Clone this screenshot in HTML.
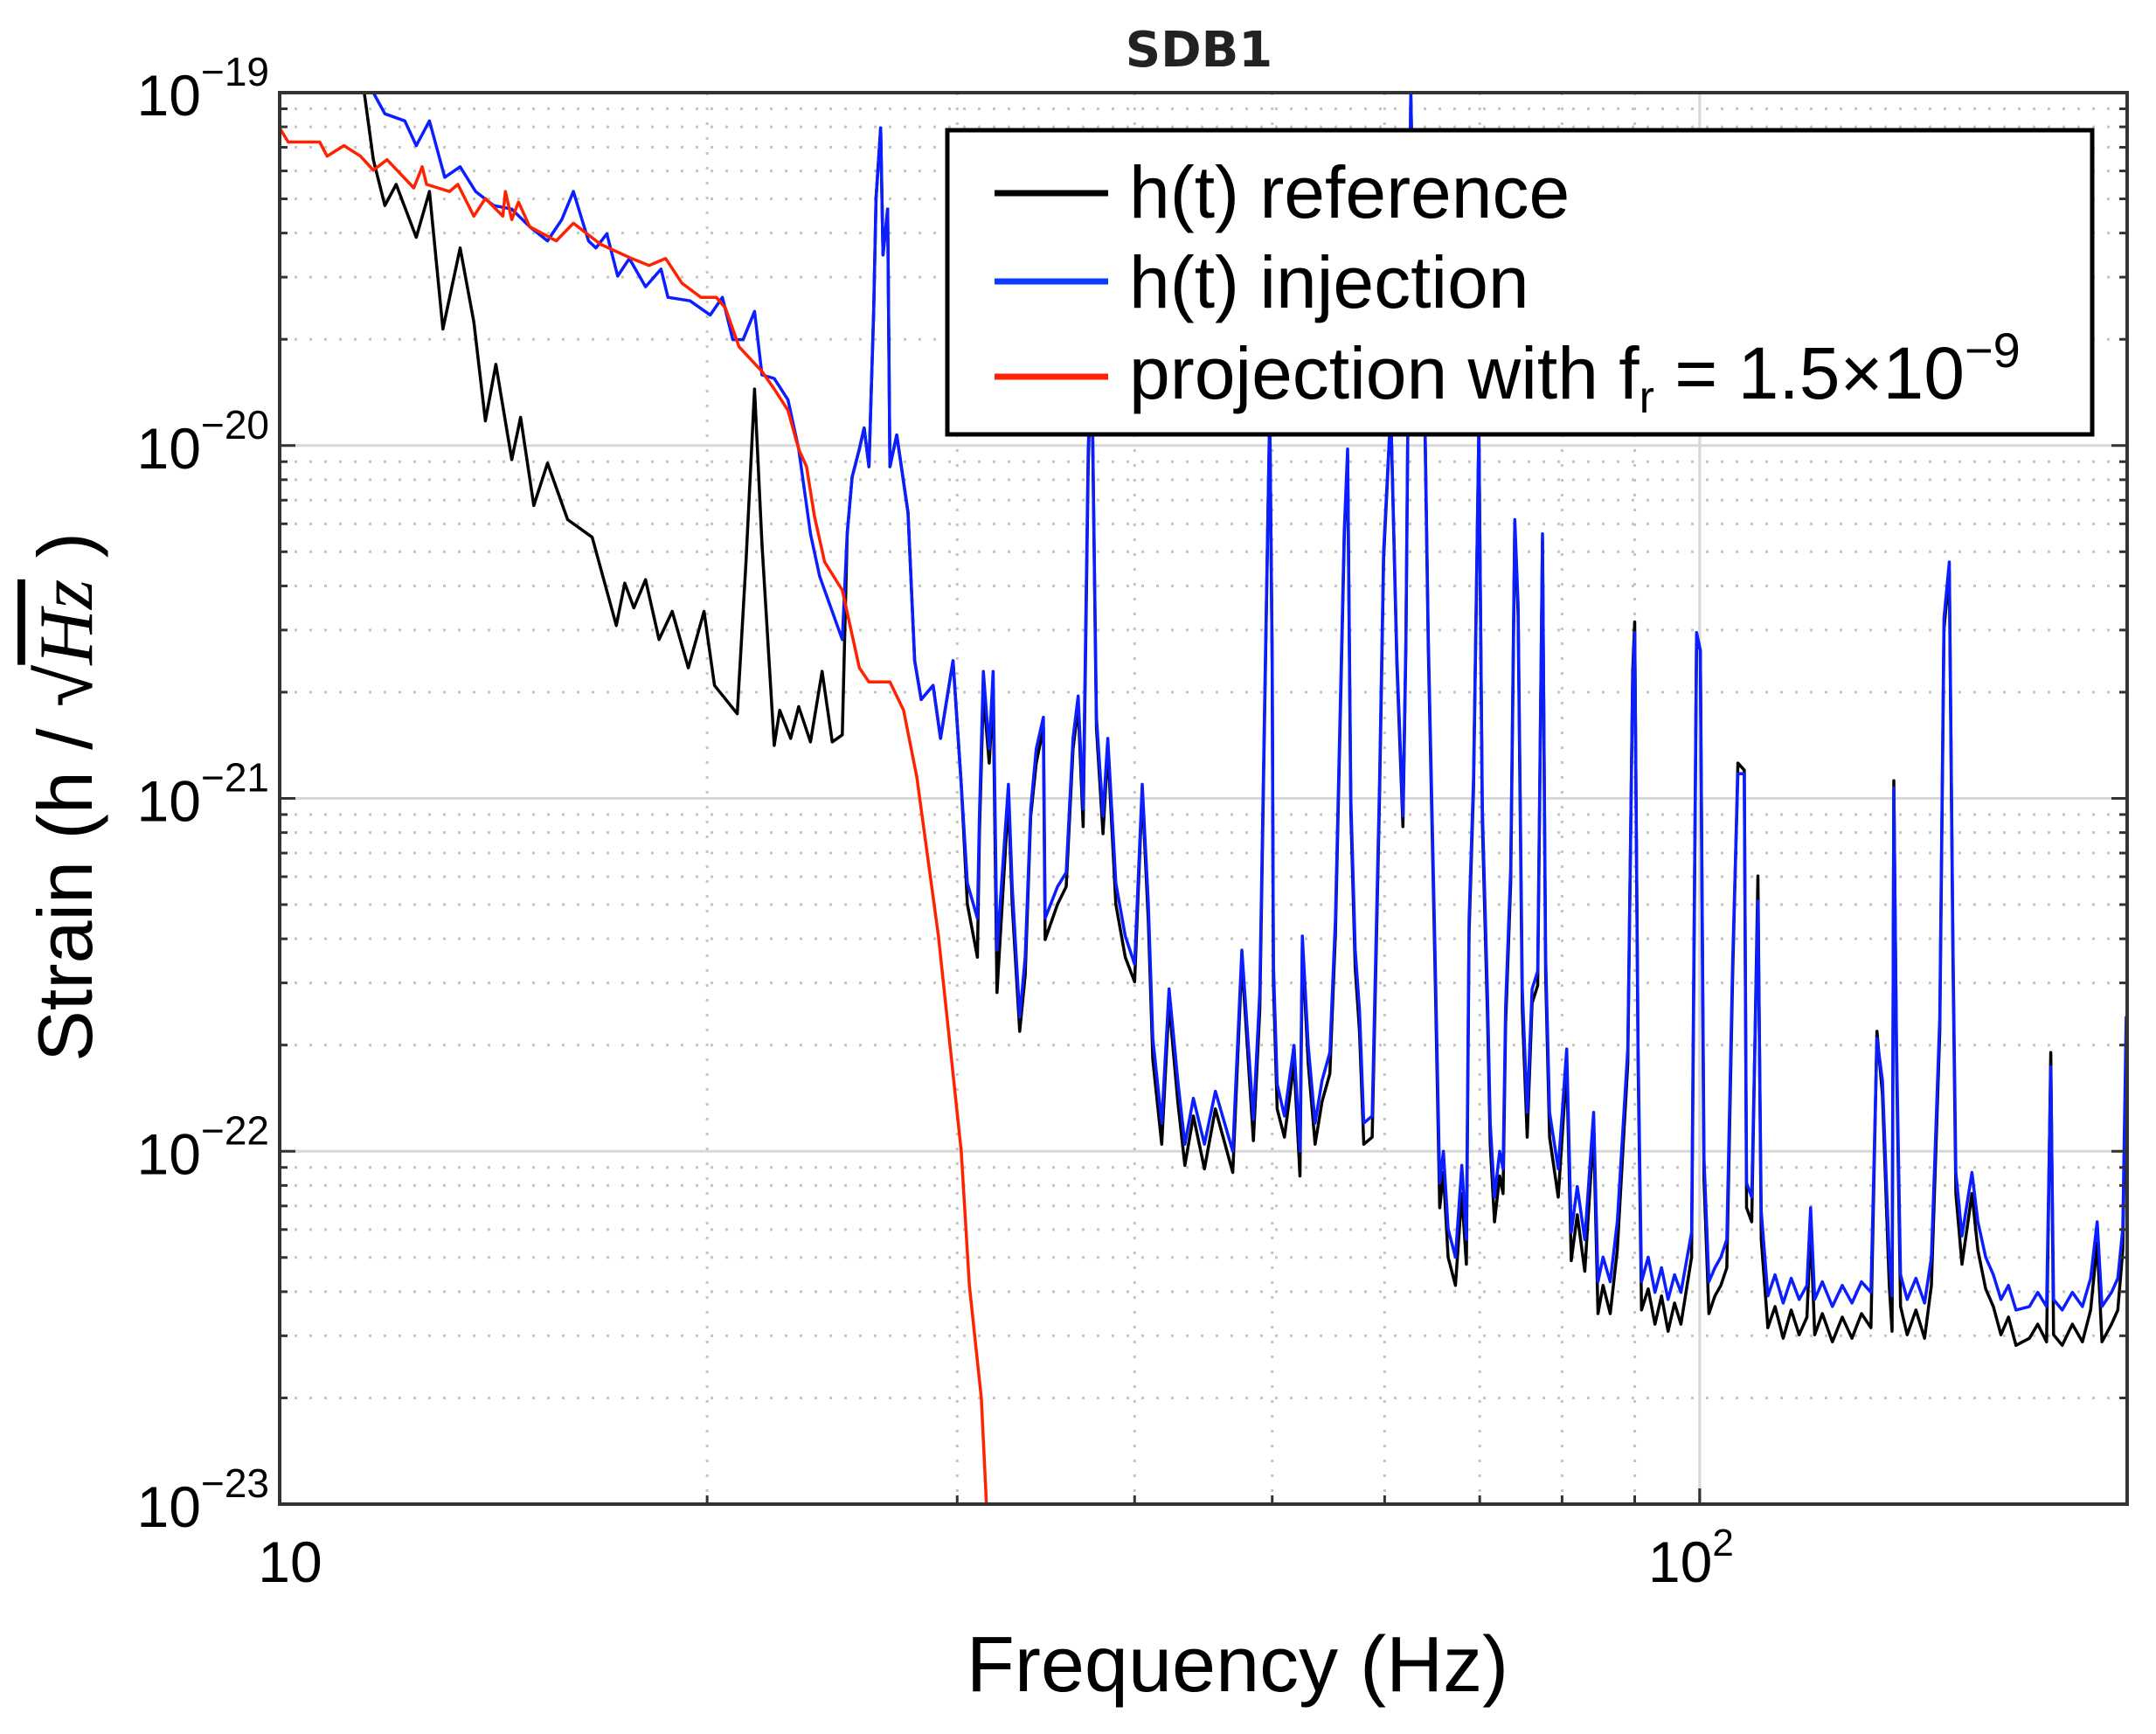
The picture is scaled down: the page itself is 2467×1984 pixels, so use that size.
<!DOCTYPE html>
<html><head><meta charset="utf-8"><style>
html,body{margin:0;padding:0;background:#fff;}
svg{display:block;font-family:"Liberation Sans",sans-serif;}
</style></head><body>
<svg id="chart" width="2467" height="1984" viewBox="0 0 2467 1984" xmlns="http://www.w3.org/2000/svg">
<defs><clipPath id="plotclip"><rect x="320" y="106" width="2114" height="1615"/></clipPath></defs>
<rect x="0" y="0" width="2467" height="1984" fill="#fff"/>
<g id="grid"></g>
<g id="series" clip-path="url(#plotclip)"></g>
<rect x="320" y="106" width="2114" height="1615" fill="none" stroke="#333" stroke-width="4"/>
<g id="ticks"></g>
<text x="1372" y="76" text-anchor="middle" font-family="'DejaVu Sans',sans-serif" font-weight="bold" font-size="56" fill="#222">SDB1</text>
<text x="1416" y="1935" text-anchor="middle" font-size="90" fill="#000">Frequency (Hz)</text>
<g transform="translate(105,912) rotate(-90)">
<text x="0" y="0" text-anchor="middle" font-size="88" fill="#000">Strain (h / √<tspan font-family="'Liberation Serif',serif" font-style="italic" text-decoration="overline">Hz</tspan> )</text>
</g>
<g id="legend">
<rect x="1084" y="149" width="1310" height="348" fill="#fff" stroke="#000" stroke-width="5"/>
<line x1="1138" y1="221" x2="1268" y2="221" stroke="#000" stroke-width="7"/>
<text x="1292" y="249" font-size="84" fill="#000">h(t) reference</text>
<line x1="1138" y1="322" x2="1268" y2="322" stroke="#0a3cff" stroke-width="7"/>
<text x="1292" y="352" font-size="84" fill="#000">h(t) injection</text>
<line x1="1138" y1="431" x2="1268" y2="431" stroke="#ff2200" stroke-width="7"/>
<text x="1292" y="456" font-size="84" fill="#000">projection with f<tspan font-size="52" dy="16">r</tspan><tspan dy="-16"> = 1.5×10</tspan><tspan font-size="56" dy="-36">−9</tspan></text>
</g>
<script>
const xTickValues = [10, 100];
const xTickLabels = ["10", "10"];
const xTickSup = ["", "2"];
const yTickExps = [-19, -20, -21, -22, -23];
const yTickLabels = ["−19", "−20", "−21", "−22", "−23"];

const projF = [10,10.14,10.67,10.8,11.1,11.4,11.64,11.9,12.43,12.6,12.69,13.17,13.35,13.7,13.96,14.36,14.42,14.57,14.73,15.0,15.66,16.1,16.83,17.7,18.2,18.7,19.2,19.8,20.3,20.6,21.06,21.86,22.3,22.8,23.2,23.5,23.8,24.2,24.9,25.6,26.0,26.9,27.5,28.1,29.1,30.2,30.6,31.2,31.5];
const projE = [-19.10,-19.14,-19.14,-19.18,-19.15,-19.18,-19.22,-19.19,-19.27,-19.21,-19.26,-19.28,-19.26,-19.35,-19.30,-19.35,-19.28,-19.36,-19.31,-19.38,-19.42,-19.37,-19.43,-19.47,-19.49,-19.47,-19.54,-19.58,-19.58,-19.61,-19.72,-19.79,-19.84,-19.90,-20.01,-20.06,-20.20,-20.33,-20.41,-20.63,-20.67,-20.67,-20.75,-20.94,-21.39,-22.0,-22.38,-22.70,-23.05];

const injF = [11.64,11.86,12.25,12.48,12.75,13.07,13.4,13.74,14.15,14.57,15.0,15.44,15.8,16.1,16.5,16.7,17.0,17.3,17.63,18.1,18.56,18.77,19.45,20.1,20.5,20.85,21.2,21.6,21.86,22.3,22.8,23.2,23.65,24.0,24.9,25.1,25.3,25.6,25.8,26.0,26.2,26.3,26.5,26.6,26.8,26.9,27.2,27.7,28.0,28.3,28.85,29.2,29.8,30.2,30.5,31.0,31.1,31.3,31.6,31.8,32.0,32.6,32.8,33.2,33.5,33.8,34.1,34.5,34.6,35.3,35.8,36.2,36.5,36.8,37.1,37.3,37.6,38.0,38.3,38.8,39.4,40.0,40.5,40.9,41.2,41.8,42.3,42.9,43.4,44.0,44.8,45.6,46.9,47.6,48.5,49.0,49.4,49.8,50.0,50.1,50.4,51.0,51.8,52.3,52.5,53.0,53.6,54.2,54.9,55.4,56.2,56.5,56.8,57.2,57.6,58.0,58.8,59.5,59.9,60.6,61.2,61.8,62.1,62.6,63.2,63.7,64.4,65.1,65.6,66.0,66.5,67.3,68.0,68.5,68.8,69.3,69.9,70.3,70.9,71.2,71.7,72.3,72.7,73.0,73.6,74.1,74.5,75.0,75.6,76.2,76.9,77.5,77.9,78.4,79.5,80.6,81.2,82.0,83.0,84.2,84.8,85.5,86.5,87.5,89.0,89.7,90.0,90.5,91.0,92,93,94,95,96,97,98.7,99.5,100.1,100.7,101.5,102.5,103.5,104.5,105.5,106.4,107.5,107.9,108.8,109.9,110.5,111.7,113,114.5,116,117.5,119.0,119.7,120.5,122,124,126,128,130,132,133.3,134.5,136.0,136.6,137.0,137.6,138.5,140,142,144,145.6,147.6,148.6,149.9,150.8,151.5,153,155.5,157,159,161,163,165,167,170.7,173,175.5,176.7,177.5,180,183,186,188.5,190.5,192,195,197,198.6,199.7,201];
const injE = [-19.0,-19.06,-19.08,-19.15,-19.08,-19.24,-19.21,-19.28,-19.32,-19.33,-19.38,-19.42,-19.36,-19.28,-19.42,-19.44,-19.40,-19.52,-19.47,-19.55,-19.50,-19.58,-19.59,-19.63,-19.58,-19.70,-19.70,-19.62,-19.80,-19.81,-19.87,-20.01,-20.25,-20.37,-20.55,-20.25,-20.09,-20.01,-19.95,-20.06,-19.62,-19.30,-19.10,-19.46,-19.33,-20.06,-19.97,-20.19,-20.61,-20.72,-20.68,-20.83,-20.61,-20.96,-21.24,-21.34,-21.05,-20.64,-20.86,-20.64,-21.43,-20.96,-21.25,-21.62,-21.45,-21.03,-20.86,-20.77,-21.34,-21.25,-21.21,-20.83,-20.71,-21.03,-20.01,-19.73,-20.77,-21.05,-20.83,-21.24,-21.39,-21.47,-20.96,-21.30,-21.68,-21.92,-21.54,-21.80,-21.98,-21.85,-21.98,-21.83,-22.0,-21.43,-21.91,-21.55,-20.71,-19.9,-20.60,-21.47,-21.81,-21.90,-21.70,-22.0,-21.39,-21.70,-21.92,-21.80,-21.72,-21.34,-20.24,-20.01,-21.0,-21.43,-21.60,-21.92,-21.90,-20.96,-20.30,-19.9,-20.6,-21.05,-20.55,-19.0,-19.9,-19.3,-20.54,-21.43,-22.09,-22.00,-22.22,-22.30,-22.04,-22.25,-21.34,-20.94,-19.95,-21.03,-21.57,-21.92,-22.13,-22.0,-22.05,-21.59,-21.2,-20.21,-20.45,-21.54,-21.89,-21.54,-21.49,-20.25,-21.45,-21.89,-22.05,-21.71,-22.23,-22.10,-22.25,-21.89,-22.37,-22.30,-22.37,-22.20,-21.71,-20.67,-20.53,-21.71,-22.37,-22.30,-22.40,-22.33,-22.42,-22.35,-22.40,-22.23,-20.53,-20.58,-22.02,-22.37,-22.33,-22.30,-22.25,-21.46,-20.93,-20.93,-22.09,-22.13,-21.29,-22.17,-22.41,-22.35,-22.43,-22.36,-22.42,-22.38,-22.16,-22.42,-22.37,-22.44,-22.38,-22.43,-22.37,-22.40,-21.68,-21.80,-22.30,-22.41,-20.97,-21.70,-22.35,-22.42,-22.36,-22.43,-22.30,-21.62,-20.49,-20.33,-21.42,-22.06,-22.24,-22.06,-22.20,-22.30,-22.35,-22.42,-22.38,-22.45,-22.44,-22.40,-22.44,-21.76,-22.42,-22.45,-22.40,-22.44,-22.36,-22.20,-22.44,-22.40,-22.36,-22.22,-21.62,-21.62];

const refF = [11.47,11.64,11.86,12.08,12.48,12.75,13.03,13.4,13.7,13.96,14.2,14.57,14.78,15.1,15.44,15.95,16.6,17.26,17.5,17.76,18.1,18.5,18.9,19.4,19.9,20.24,21.0,21.3,21.6,21.86,22.3,22.5,22.9,23.2,23.65,24.1,24.5,24.9,25.1,25.3,25.6,25.8,26.0,26.2,26.3,26.5,26.6,26.8,26.9,27.2,27.7,28.0,28.3,28.85,29.2,29.8,30.2,30.5,31.0,31.1,31.3,31.6,31.8,32.0,32.6,32.8,33.2,33.5,33.8,34.1,34.5,34.6,35.3,35.8,36.2,36.5,36.8,37.1,37.3,37.6,38.0,38.3,38.8,39.4,40.0,40.5,40.9,41.2,41.8,42.3,42.9,43.4,44.0,44.8,45.6,46.9,47.6,48.5,49.0,49.4,49.8,50.0,50.1,50.4,51.0,51.8,52.3,52.5,53.0,53.6,54.2,54.9,55.4,56.2,56.5,56.8,57.2,57.6,58.0,58.8,59.5,59.9,60.6,61.2,61.8,62.1,62.6,63.2,63.7,64.4,65.1,65.6,66.0,66.5,67.3,68.0,68.5,68.8,69.3,69.9,70.3,70.9,71.2,71.7,72.3,72.7,73.0,73.6,74.1,74.5,75.0,75.6,76.2,76.9,77.5,77.9,78.4,79.5,80.6,81.2,82.0,83.0,84.2,84.8,85.5,86.5,87.5,89.0,89.7,90.0,90.5,91.0,92,93,94,95,96,97,98.7,99.5,100.1,100.7,101.5,102.5,103.5,104.5,105.5,106.4,107.5,107.9,108.8,109.9,110.5,111.7,113,114.5,116,117.5,119.0,119.7,120.5,122,124,126,128,130,132,133.3,134.5,136.0,136.6,137.0,137.6,138.5,140,142,144,145.6,147.6,148.6,149.9,150.8,151.5,153,155.5,157,159,161,163,165,167,170.7,173,175.5,176.7,177.5,180,183,186,188.5,190.5,192,195,197,198.6,199.7,201];
const refE = [-19.0,-19.19,-19.32,-19.26,-19.41,-19.28,-19.67,-19.44,-19.65,-19.93,-19.77,-20.04,-19.92,-20.17,-20.05,-20.21,-20.26,-20.51,-20.39,-20.46,-20.38,-20.55,-20.47,-20.63,-20.47,-20.68,-20.76,-20.33,-19.84,-20.28,-20.85,-20.75,-20.83,-20.74,-20.84,-20.64,-20.84,-20.82,-20.25,-20.09,-20.01,-19.95,-20.06,-19.62,-19.30,-19.10,-19.46,-19.33,-20.06,-19.97,-20.19,-20.61,-20.72,-20.68,-20.83,-20.61,-20.96,-21.30,-21.45,-21.10,-20.70,-20.90,-20.70,-21.55,-21.00,-21.30,-21.66,-21.50,-21.05,-20.90,-20.80,-21.40,-21.30,-21.25,-20.86,-20.74,-21.08,-20.05,-19.73,-20.80,-21.10,-20.86,-21.30,-21.45,-21.52,-20.98,-21.35,-21.74,-21.98,-21.58,-21.86,-22.04,-21.90,-22.05,-21.88,-22.06,-21.46,-21.97,-21.60,-20.74,-19.9,-20.62,-21.52,-21.88,-21.96,-21.75,-22.07,-21.42,-21.75,-21.98,-21.86,-21.78,-21.38,-20.26,-20.03,-21.04,-21.48,-21.66,-21.98,-21.96,-21.00,-20.32,-19.9,-20.62,-21.08,-20.57,-19.0,-19.9,-19.3,-20.57,-21.48,-22.16,-22.06,-22.30,-22.38,-22.12,-22.32,-21.38,-20.97,-19.95,-21.07,-21.63,-21.98,-22.20,-22.07,-22.12,-21.64,-21.24,-20.23,-20.48,-21.60,-21.96,-21.58,-21.53,-20.27,-21.50,-21.96,-22.13,-21.76,-22.31,-22.18,-22.34,-21.94,-22.46,-22.38,-22.46,-22.28,-21.75,-20.64,-20.50,-21.75,-22.45,-22.39,-22.49,-22.41,-22.51,-22.43,-22.49,-22.30,-20.55,-20.58,-22.08,-22.46,-22.41,-22.38,-22.33,-21.50,-20.90,-20.92,-22.16,-22.20,-21.22,-22.25,-22.50,-22.44,-22.53,-22.45,-22.52,-22.47,-22.22,-22.52,-22.46,-22.54,-22.47,-22.53,-22.46,-22.50,-21.66,-21.84,-22.38,-22.51,-20.95,-21.74,-22.44,-22.52,-22.45,-22.53,-22.38,-21.66,-20.52,-20.36,-21.46,-22.12,-22.32,-22.12,-22.28,-22.39,-22.44,-22.52,-22.47,-22.55,-22.53,-22.49,-22.54,-21.72,-22.52,-22.55,-22.49,-22.54,-22.45,-22.26,-22.54,-22.49,-22.45,-22.28,-21.70,-21.70];

const PL = 320, PR = 2434, PT = 106, PB = 1721;
const XMIN = 1, XMAX = Math.log10(200);
const YMAX = -19, YMIN = -23;
function xScale(f) { return PL + (Math.log10(f) - XMIN) / (XMAX - XMIN) * (PR - PL); }
function yScale(e) { return PT + (YMAX - e) / (YMAX - YMIN) * (PB - PT); }

const NS = "http://www.w3.org/2000/svg";
function mk(tag, parent) { const el = document.createElementNS(NS, tag); parent.appendChild(el); return el; }

const grid = document.getElementById("grid");
const ticks = document.getElementById("ticks");
const series = document.getElementById("series");

// y grid
for (let d = YMIN; d < YMAX; d++) {
  for (let m = 1; m <= 9; m++) {
    const e = d + Math.log10(m);
    const y = yScale(e);
    if (m === 1) {
      if (d === YMIN) continue;
      const ln = mk("line", grid);
      
      
      ln.setAttribute("x1", PL); ln.setAttribute("x2", PR); ln.setAttribute("y1", y); ln.setAttribute("y2", y);
      ln.setAttribute("stroke", "#d8d8d8"); ln.setAttribute("stroke-width", "3");
    } else {
      const ln = mk("line", grid);
      
      
      ln.setAttribute("x1", PL); ln.setAttribute("x2", PR); ln.setAttribute("y1", y); ln.setAttribute("y2", y);
      ln.setAttribute("stroke", "#c4c4c4"); ln.setAttribute("stroke-width", "3"); ln.setAttribute("stroke-dasharray", "3 14");
    }
    const t1 = mk("line", ticks);
    
    
    t1.setAttribute("x1", PL); t1.setAttribute("x2", PL + (m === 1 ? 18 : 9)); t1.setAttribute("y1", y); t1.setAttribute("y2", y);
    t1.setAttribute("stroke", "#333"); t1.setAttribute("stroke-width", "3");
    const t2 = mk("line", ticks);
    
    
    t2.setAttribute("x1", PR); t2.setAttribute("x2", PR - (m === 1 ? 18 : 9)); t2.setAttribute("y1", y); t2.setAttribute("y2", y);
    t2.setAttribute("stroke", "#333"); t2.setAttribute("stroke-width", "3");
  }
}
// x grid
[[10,100],[100,200]].forEach(([a,b]) => {
  for (let v = a; v <= b; v += a) {
    const x = xScale(v);
    if (x > PR + 1) break;
    const major = (v === 10 || v === 100);
    if (!(v === 10)) {
      const ln = mk("line", grid);
      
      
      ln.setAttribute("x1", x); ln.setAttribute("x2", x); ln.setAttribute("y1", PT); ln.setAttribute("y2", PB);
      ln.setAttribute("stroke", major ? "#d8d8d8" : "#c4c4c4"); ln.setAttribute("stroke-width", "3");
      if (!major) ln.setAttribute("stroke-dasharray", "3 14");
    }
    const t = mk("line", ticks);
    
    
    t.setAttribute("x1", x); t.setAttribute("x2", x); t.setAttribute("y1", PB); t.setAttribute("y2", PB - (major ? 18 : 10));
    t.setAttribute("stroke", "#333"); t.setAttribute("stroke-width", "3");
  }
});

// y labels
yTickExps.forEach((e, i) => {
  const y = yScale(e);
  const t = mk("text", ticks);
  
  
  t.setAttribute("x", 308); t.setAttribute("y", y + 26);
  t.setAttribute("text-anchor", "end"); t.setAttribute("font-size", "66");
  t.textContent = "10";
  const s = mk("tspan", t);
  s.setAttribute("font-size", "46"); s.setAttribute("dy", "-34");
  s.textContent = yTickLabels[i];
});
// x labels
xTickValues.forEach((v, i) => {
  const x = xScale(v);
  const t = mk("text", ticks);
  
  
  t.setAttribute("x", x + (xTickSup[i] ? -10 : 12)); t.setAttribute("y", 1810);
  t.setAttribute("text-anchor", "middle"); t.setAttribute("font-size", "66");
  t.textContent = xTickLabels[i];
  if (xTickSup[i]) {
    const s = mk("tspan", t);
    s.setAttribute("font-size", "44"); s.setAttribute("dy", "-30");
    s.textContent = xTickSup[i];
  }
});

function drawLine(F, E, color, name) {
  let d = "";
  F.forEach((f, i) => { d += (i ? "L" : "M") + xScale(f).toFixed(1) + " " + yScale(E[i]).toFixed(1); });
  const p = mk("path", series);
  
  
  p.setAttribute("d", d); p.setAttribute("fill", "none");
  p.setAttribute("stroke", color); p.setAttribute("stroke-width", "3.5"); p.setAttribute("stroke-linejoin", "round");
}
drawLine(refF, refE, "#000", "reference-line");
drawLine(injF, injE, "#0a1eff", "injection-line");
drawLine(projF, projE, "#ff2200", "projection-line");
</script>
</svg>
</body></html>
